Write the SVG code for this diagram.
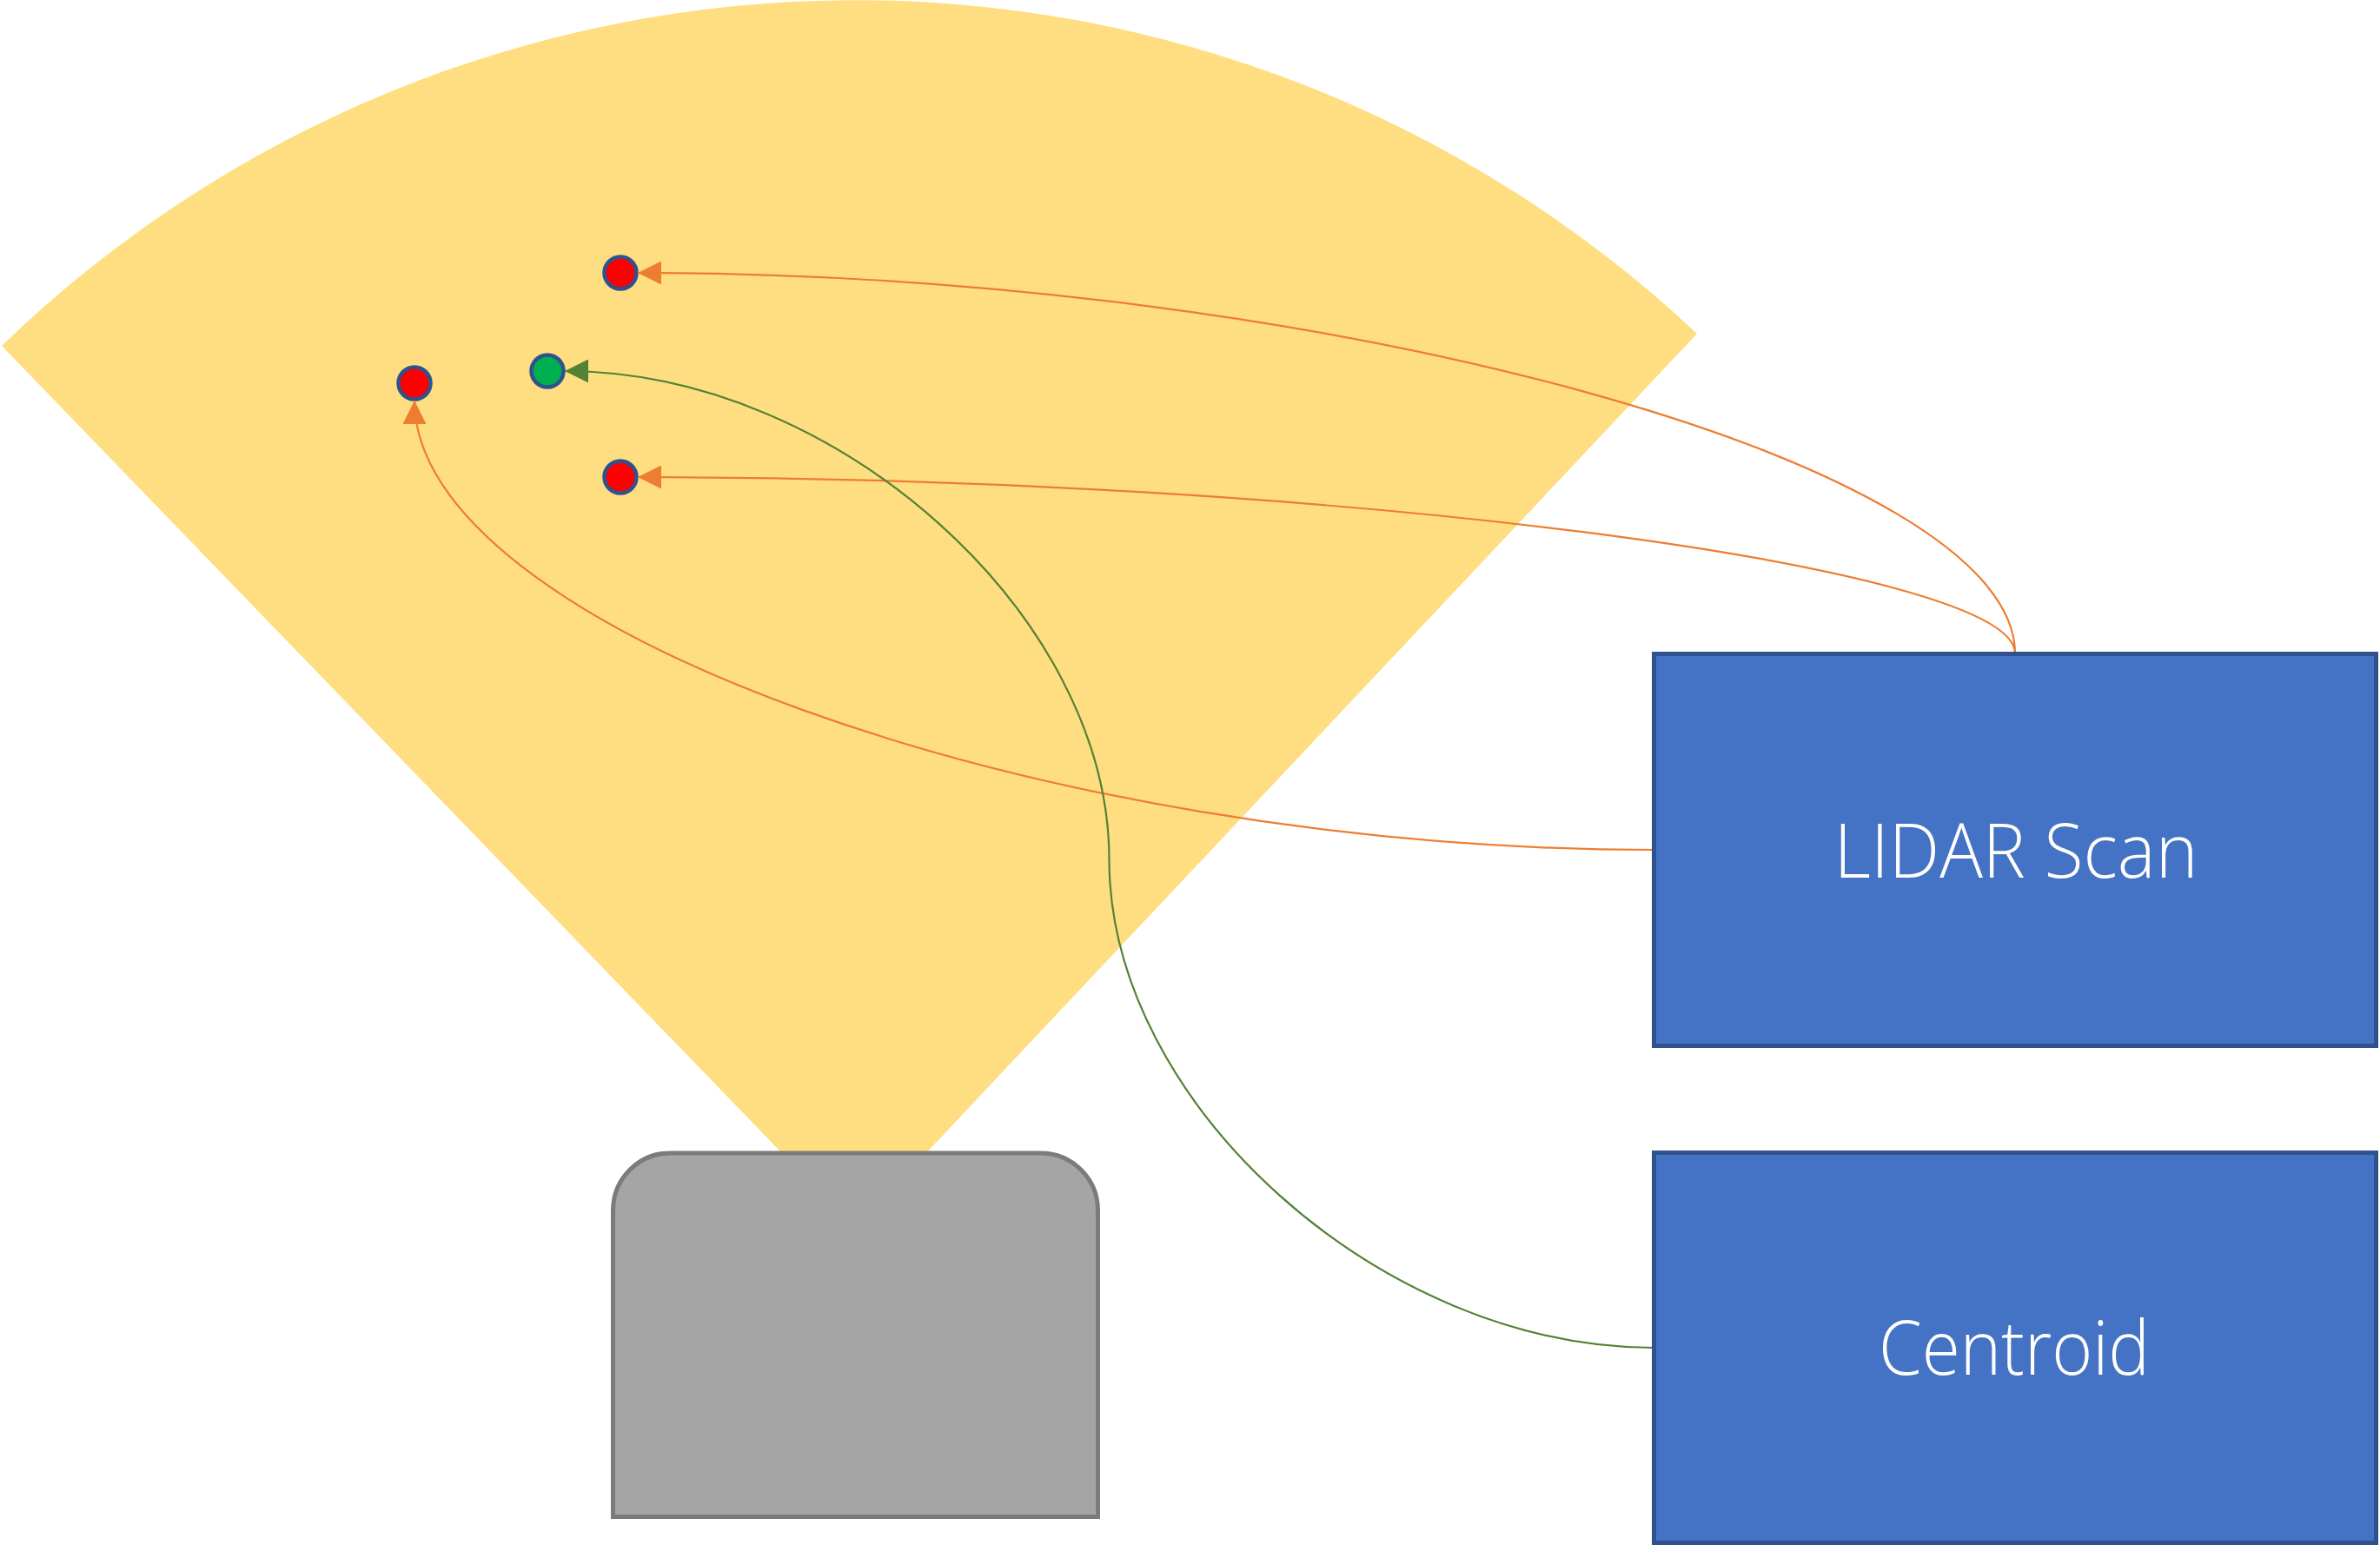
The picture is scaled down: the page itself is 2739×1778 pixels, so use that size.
<svg xmlns="http://www.w3.org/2000/svg" width="2739" height="1778" viewBox="0 0 2739 1778">
  <style>
    .conn { fill: none; stroke-width: 2.2; }
    .orange { stroke: #ED7D31; }
    .green { stroke: #548235; }
    .dot { stroke: #2F528F; stroke-width: 4.5; }
    .box { fill: #4472C4; stroke: #2F528F; stroke-width: 5; }
    .label { fill: #FFFFFF; font-family: "Open Sans", "Liberation Sans", sans-serif; font-weight: 300; font-size: 86px; text-anchor: middle; }
  </style>
  <defs>
    <marker id="arrowOrange" markerUnits="userSpaceOnUse" viewBox="0 0 27 27" markerWidth="27" markerHeight="27" refX="27" refY="13.5" orient="auto">
      <path d="M0 0 L27 13.5 L0 27 Z" fill="#ED7D31"/>
    </marker>
    <marker id="arrowGreen" markerUnits="userSpaceOnUse" viewBox="0 0 27 27" markerWidth="27" markerHeight="27" refX="27" refY="13.5" orient="auto">
      <path d="M0 0 L27 13.5 L0 27 Z" fill="#548235"/>
    </marker>
  </defs>

  <g id="scan-fan">
    <path d="M 984 1414 L 2 398 A 1413 1413 0 0 1 1953 384 Z" fill="#FFDE81"/>
  </g>

  <g id="robot">
    <path d="M 705.5 1745.5 L 705.5 1393 A 66 66 0 0 1 771.5 1327 L 1197.5 1327 A 66 66 0 0 1 1263.5 1393 L 1263.5 1745.5 Z" fill="#A5A5A5" stroke="#7B7B7B" stroke-width="5"/>
  </g>

  <g id="points">
    <circle id="point-1" class="dot" cx="714" cy="314" r="18.5" fill="#FF0000"/>
    <circle id="point-2" class="dot" cx="477" cy="441" r="18.5" fill="#FF0000"/>
    <circle id="point-3" class="dot" cx="714" cy="549" r="18.5" fill="#FF0000"/>
    <circle id="centroid-point" class="dot" cx="630" cy="427" r="18.5" fill="#00B050"/>
  </g>

  <g id="connectors">
    <path class="conn orange" d="M 2319 752 C 2319 533 1526 314 734 314" marker-end="url(#arrowOrange)"/>
    <path class="conn orange" d="M 2319 752 C 2319 650.5 1526 549 734 549" marker-end="url(#arrowOrange)"/>
    <path class="conn orange" d="M 1903 978 C 1190 978 477 720 477 461" marker-end="url(#arrowOrange)"/>
    <path class="conn green" d="M 1903 1551 C 1589.75 1551 1276.5 1270 1276.5 989 C 1276.5 708 963 427 650 427" marker-end="url(#arrowGreen)"/>
  </g>

  <g id="lidar-scan">
    <rect class="box" x="1903.5" y="752.5" width="831" height="451"/>
    <text class="label" x="2320" y="1010" textLength="419" lengthAdjust="spacingAndGlyphs">LIDAR Scan</text>
  </g>

  <g id="centroid">
    <rect class="box" x="1903.5" y="1326.5" width="831" height="449"/>
    <text class="label" x="2318" y="1582" textLength="312" lengthAdjust="spacingAndGlyphs">Centroid</text>
  </g>
</svg>
